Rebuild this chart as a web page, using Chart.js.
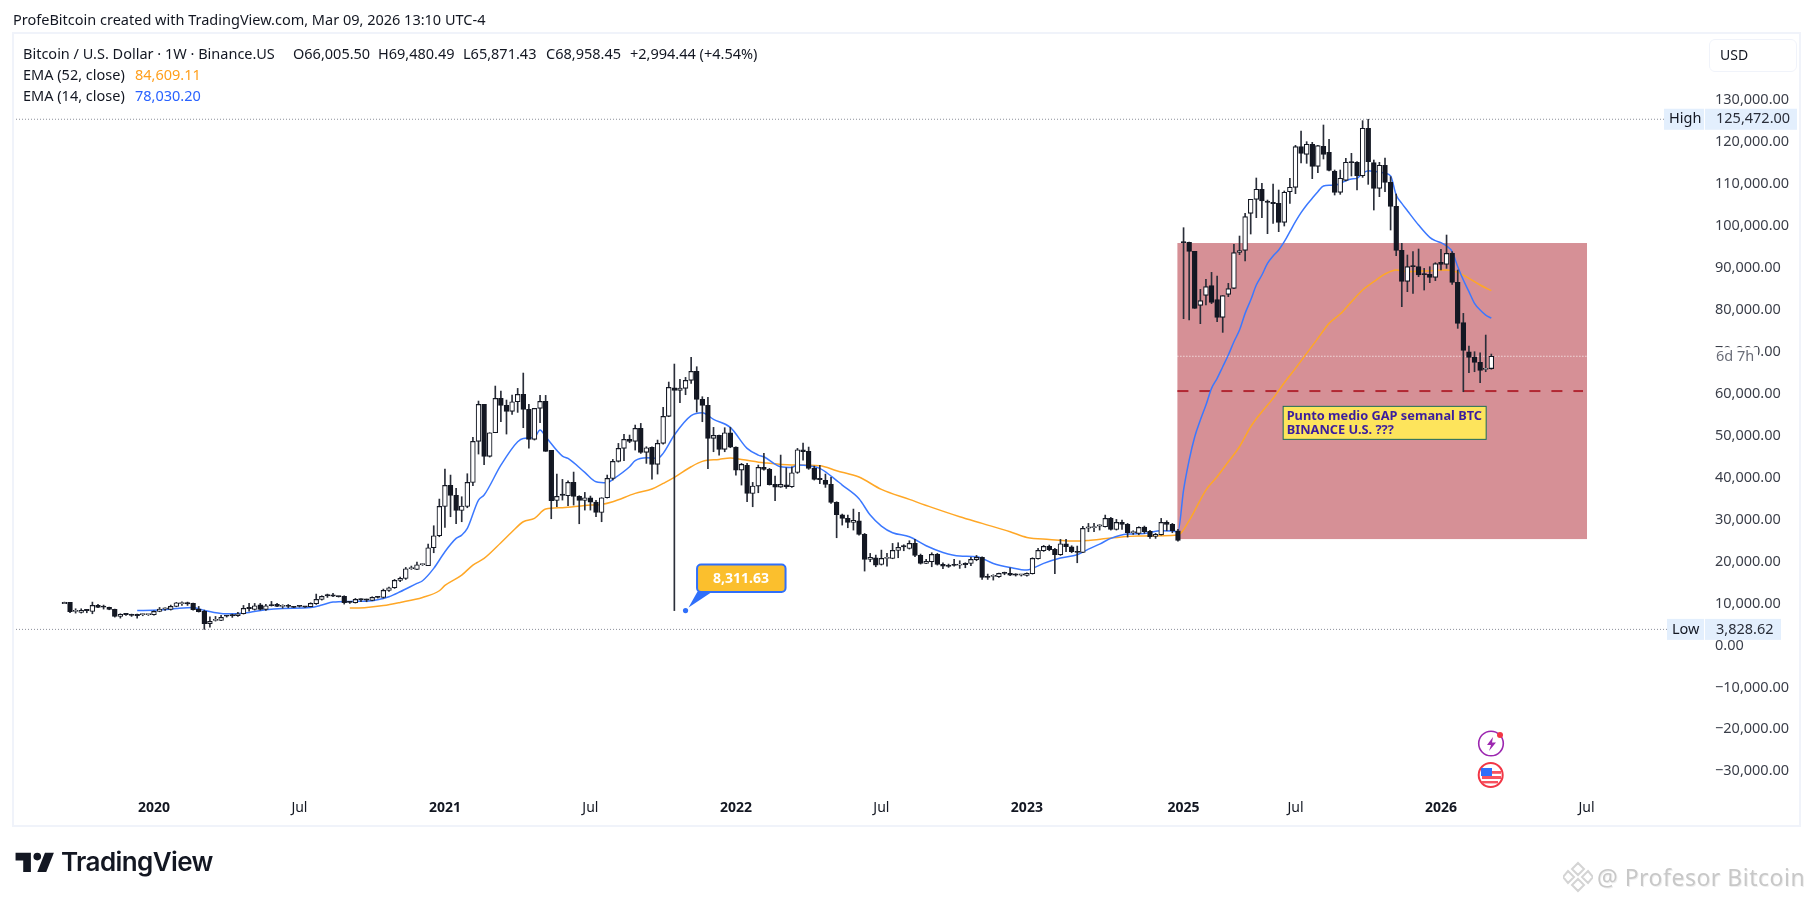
<!DOCTYPE html>
<html>
<head>
<meta charset="utf-8">
<title>BTC weekly</title>
<script src="https://cdn.jsdelivr.net/npm/chart.js@4/dist/chart.umd.min.js"></script>
<style>
html, body { margin: 0; padding: 0; background: #fff; width: 1814px; height: 901px; overflow: hidden; }
body { font-family: "Noto Sans", sans-serif; color: #131722; position: relative; }
canvas { position: absolute; left: 0; top: 0; }
.t { position: absolute; white-space: nowrap; font-size: 14.5px; line-height: 18px; }
#usd { position: absolute; left: 1709px; top: 39px; width: 86px; height: 31px; border: 1px solid #f0f3fa; border-radius: 6px; box-sizing: content-box; }
#usd span { position: absolute; left: 10px; top: 6px; font-size: 14px; line-height: 18px; }
.brand { position: absolute; left: 61px; top: 846px; font-family: Inter, sans-serif; font-weight: 600; font-size: 26px; line-height: 32px; letter-spacing: -0.6px; color: #131722; white-space: nowrap; }
.mark { position: absolute; left: 1597px; top: 860px; font-size: 23px; line-height: 34px; letter-spacing: 0.5px; color: #c8c8c8; white-space: nowrap; text-shadow: 1px 1px 0 #eee; }
svg { position: absolute; }
</style>
</head>
<body>
<canvas id="btcChart" width="1814" height="901"></canvas>

<div class="t" style="left:13px;top:10px">ProfeBitcoin created with TradingView.com, Mar 09, 2026 13:10 UTC-4</div>
<div class="t" style="left:23px;top:44px">Bitcoin / U.S. Dollar · 1W · Binance.US</div>
<div class="t" style="left:293px;top:44px">O66,005.50</div>
<div class="t" style="left:378px;top:44px">H69,480.49</div>
<div class="t" style="left:463px;top:44px">L65,871.43</div>
<div class="t" style="left:546px;top:44px">C68,958.45</div>
<div class="t" style="left:630px;top:44px">+2,994.44 (+4.54%)</div>
<div class="t" style="left:23px;top:65px">EMA (52, close)</div>
<div class="t" style="left:135px;top:65px;color:#ff9f1c">84,609.11</div>
<div class="t" style="left:23px;top:86px">EMA (14, close)</div>
<div class="t" style="left:135px;top:86px;color:#2962ff">78,030.20</div>
<div id="usd"><span>USD</span></div>

<!-- event icons -->
<svg style="left:1476px;top:728px" width="32" height="32" viewBox="0 0 32 32">
  <circle cx="15" cy="15.5" r="12.3" fill="#fff" stroke="#9c27b0" stroke-width="1.6"/>
  <path d="M17 9 L11 17 H15 L13 23 L20 14.5 H16 Z" fill="#9c27b0"/>
  <circle cx="24" cy="7" r="3" fill="#f23645"/>
</svg>
<svg style="left:1476px;top:760px" width="30" height="30" viewBox="0 0 30 30">
  <circle cx="14.7" cy="15" r="12" fill="#fff" stroke="#f23645" stroke-width="2"/>
  <rect x="6" y="16" width="19" height="3" fill="#f7525f"/>
  <rect x="6" y="21" width="16" height="2.4" fill="#f7525f"/>
  <rect x="16" y="11" width="9" height="2.8" fill="#f7525f"/>
  <rect x="5" y="8" width="11" height="8" fill="#2f6ffa"/>
</svg>

<!-- TradingView logo -->
<svg style="left:13px;top:845px" width="46" height="36" viewBox="0 0 36 28">
  <path d="M14 6H2v6h6v9h6V6Zm12 15h-7l6-15h7l-6 15Zm-7-9a3 3 0 1 0 0-6 3 3 0 0 0 0 6Z" fill="#131722"/>
</svg>
<div class="brand">TradingView</div>

<!-- watermark -->
<svg style="left:1563px;top:861px" width="30" height="32" viewBox="0 0 30 32">
  <path d="M15 2 L21 8 L15 14 L9 8 Z M5 10 L11 16 L5 22 L0 16 Z M25 10 L30 16 L25 22 L19 16 Z M15 18 L21 24 L15 30 L9 24 Z" fill="none" stroke="#d4d4d4" stroke-width="2"/>
</svg>
<div class="mark">@ Profesor Bitcoin</div>

<script>
// weekly candles (USD)
const opens = [
  10258,10258,8112,7874,8351,8112,9543,9146,9066,8589,
  6920,7397,7397,7397,7317,7317,7317,8112,8669,8589,
  9305,9941,9941,10020,8669,8112,5171,5966,5966,6999,
  7079,7079,7556,8828,8589,9702,8589,9702,9782,9305,
  9305,9146,9305,9225,9225,9941,10974,11849,11928,11690,
  11690,10258,10179,10895,10815,10736,11451,11452,13122,13757,
  15506,15984,18289,18130,19243,18997,23297,26160,33155,38164,
  35779,32202,33155,38879,48658,57483,45081,50725,58913,57244,
  55813,58118,59867,56290,49135,56528,58198,46511,34586,35859,
  35700,38879,35541,34586,35222,34189,31724,35222,39834,43888,
  46988,49135,48658,51758,46035,47227,43173,48181,54621,61457,
  60821,61298,63207,65353,58675,57244,49373,50089,46750,50725,
  47307,41821,42934,36256,38005,42457,41980,38403,37768,38323,
  37846,41264,46671,46273,42218,39595,39356,38402,34110,31168,
  30294,29339,29737,26477,20515,20913,19323,20753,20753,22661,
  23535,23139,24331,21469,19561,19959,21708,19323,19164,19323,
  19400,19561,19561,20435,20992,16222,16460,16381,17176,17176,
  16778,16778,16699,17096,20674,22582,23615,22900,21628,24251,
  23536,22423,22184,27988,28068,28465,28306,30294,27670,29339,
  28862,26875,26716,28226,27193,26000,26398,29339,28862,27352,
  96120,96120,93973,81094,83479,85785,82446,78232,83717,85149,
  93734,94212,103036,106375,108760,105660,105660,105421,100890,108204,
  109237,118936,117107,119493,114245,119015,117584,113053,108045,110906,
  115199,115199,112020,123308,115120,109000,114484,110429,104705,94212,
  86818,90316,90316,88408,88488,87772,91351,90873,93496,86579,
  76960,70043,68692,67500,65800,66005.50
];
const highs = [
  10338,10258,8748,8748,8589,10338,9782,9623,9146,8669,
  7556,7635,7476,7476,7556,7476,8271,9066,8987,9623,
  10258,10418,10338,10100,9305,8430,6840,6920,7158,7158,
  7476,7874,9543,10020,10020,10020,9782,10497,10020,9702,
  9782,9305,9464,9305,10179,12246,11849,12246,12405,11769,
  11849,10497,11213,11133,11054,11610,11690,13440,13916,15745,
  16302,18607,18925,19879,19481,24172,28544,34904,42060,40628,
  37448,35461,40947,49612,58278,57483,50725,61855,60663,58516,
  59708,61298,64955,57483,56528,59629,59629,46511,40867,39595,
  39277,41344,35700,36495,35620,34586,35222,40628,44365,48181,
  50328,50168,52553,52951,47386,47386,48976,56767,62809,67102,
  63445,63922,68692,66466,59311,59152,51997,50168,51918,51997,
  47386,43411,43411,38880,43014,45796,42218,40390,45398,42377,
  42616,46989,48260,47306,42775,42934,40867,40072,34268,31327,
  31088,32520,31724,26716,21946,21548,22741,21946,24331,24490,
  24013,24967,25285,21787,20515,22105,21946,19720,19402,20515,
  20197,19720,20992,21469,21151,17017,16858,17255,17494,18527,
  17096,16937,17335,20913,23138,23854,23934,23138,25285,25285,
  23774,23695,28386,29101,29101,28783,31088,30532,30055,29896,
  29101,27352,28306,28465,27431,26716,30294,29737,29101,27670,
  99617,96199,93973,84910,87295,88965,88090,83399,86341,95642,
  97630,103036,106375,111463,110191,106216,110032,108601,108363,111384,
  119254,122672,120128,119969,119254,124103,120685,113371,113371,116153,
  117346,115359,125137,125472,115756,115200,116233,111781,107647,95881,
  93098,93894,94529,89918,90316,91270,94450,97868,93894,89521,
  79186,71395,70043,69805,74018,69480.49
];
const lows = [
  10179,7794,7715,7715,7794,7556,8987,8669,8510,6760,
  6522,7158,6920,6522,7079,7158,7238,8033,8351,8430,
  9225,9543,9543,8430,7953,3828.62,4376,5807,5886,6760,
  6681,6920,7476,8192,8430,8430,8351,9384,9225,8907,
  8987,8987,9146,9066,9200,9782,10815,11451,11610,11531,
  9861,10020,10100,10418,10418,10656,11292,11290,12883,13598,
  15188,15745,18130,18050,19084,18997,22105,25921,28147,30691,
  29022,29498,32837,38085,45637,43093,44921,50725,53349,50407,
  55097,55574,51918,47068,48976,53110,46273,30214,33076,34666,
  33315,33473,29022,32281,32281,30691,29498,35143,39436,43729,
  44047,48340,46591,45796,43411,39675,40867,48022,54541,8311.63,
  57880,59788,62491,55654,53349,42139,46193,45398,46193,47148,
  40628,38244,34268,33076,36415,41821,38244,34507,37687,37448,
  37687,41026,44206,41980,39436,38561,37687,33871,25682,28703,
  28068,27511,26318,17733,19958,18766,19164,18925,20674,20913,
  22582,22980,21151,19402,19482,18766,19164,18289,18607,18925,
  18368,18527,19005,20197,15745,15745,15586,16222,16858,16619,
  16540,16540,16540,17017,20594,22423,22582,17096,21469,22343,
  22105,19720,22105,27113,27113,27511,28226,27511,27511,27670,
  25842,26477,26398,26716,25524,25524,26318,27352,26875,24887,
  77914,77596,80379,76722,81174,81492,77199,74655,83161,85069,
  93178,91667,98107,102002,102002,98187,100651,98662,100015,105421,
  107727,115041,114961,111304,112735,115995,113132,107408,107567,110747,
  111940,108601,111622,109952,103831,107011,108203,99061,92940,80776,
  84354,83956,87931,84751,86500,86977,89521,89918,86102,75608,
  60503,65035,65273,62650,65273,65871.43
];
const closes = [
  10258,8033,8271,8351,8311,9543,9066,9106,8589,6920,
  7397,7357,7158,7079,7340,7357,8112,8669,8690,9305,
  10179,9960,9920,8510,8033,5171,5727,6045,6681,6980,
  7050,7556,8828,8790,9464,8589,9464,9464,9305,9330,
  9280,9066,9280,9146,10020,10974,11690,11830,11769,11610,
  10179,10240,10974,10880,10800,11451,11430,13122,13757,15506,
  15984,18289,18330,19243,19260,23297,26160,33155,38164,35779,
  32202,33235,38879,48658,57483,45081,50725,58913,57244,55813,
  58118,59867,56290,49135,56528,58198,46273,34507,35541,35800,
  38879,35541,34586,35222,34189,31724,35222,39834,43888,46988,
  49135,48658,51758,46035,47147,43173,48181,54621,61537,60821,
  61378,63207,65353,58675,57244,49373,50089,46750,50725,47307,
  41821,43173,36256,38005,42457,41980,38323,37768,38403,37846,
  41185,46670,46193,42218,39595,39550,38402,34110,31168,30294,
  29339,29816,26477,20515,20992,19164,20753,20830,22661,23377,
  23500,24331,21469,19561,20038,21708,19323,18925,18846,19084,
  19400,19243,20515,20992,16222,16200,16500,17176,17150,16778,
  16770,16790,17176,20753,22661,23615,22820,21628,24251,23536,
  22343,22184,27908,28000,28100,28480,30294,27670,29339,28862,
  26875,26890,28147,27113,25921,26477,29339,28862,27352,25046,
  96040,93973,80379,82207,85546,81810,78232,83399,85069,93655,
  94132,102241,106375,108760,105978,105650,105341,100890,108045,109237,
  118936,117346,119493,114245,119174,117107,113291,108045,111383,115199,
  115120,112020,123308,115358,109000,114484,110429,104705,94212,86818,
  90316,90300,88328,88400,87772,91031,90873,93496,86579,76801,
  70362,68692,67500,65592,66005,68958.45
];

// EMA lines, read at the week numbers listed
const ema14Weeks = [13,17,20,23,25,28,30,33,36,39,44,46,48,51,55,57,58,60,63,64,66,68,70,71,72,74,75,78,81,82,84,85,86,89,90,93,95,97,98,101,102,104,106,107,109,112,114,116,119,122,124,125,128,130,131,133,135,137,139,142,144,146,148,151,154,157,160,163,166,169,172,173,175,178,181,183,185,187,190,193,196,198,199,200,201,202,203,204,205,206,207,208,209,210,211,212,213,214,215,216,217,218,219,220,221,222,223,224,225,226,227,228,229,230,231,232,233,234,236,237,238,239,240,242,244,245,246,247,248,249,250,251,252,253,254,255];
const ema14Values = [8351,8430,8828,9066,8351,7635,7556,7874,8510,8828,9066,9623,10338,10497,10656,11213,11611,12803,14791,15427,18369,22344,25523,26318,27908,34666,35858,42993,48578,49373,49612,51361,49771,45160,44603,41264,39038,38800,39595,42616,44047,44763,44603,45796,50168,54779,55495,53905,51997,46989,45398,45000,42616,42457,43013,42854,42218,40390,38244,34984,31088,28465,26875,25921,23774,22184,21310,21151,19561,18607,17971,18368,19561,20833,21628,22980,24172,25524,26557,26716,27352,27272,27113,37051,44206,49771,53746,57323,61298,63683,66466,69248,72428,75211,79186,82366,85943,88329,91111,92860,94291,96279,98664,101049,103195,105023,106613,108203,109555,109714,109714,110191,110827,111225,111384,112576,113212,113053,112576,111940,107408,105421,103672,100253,97312,96517,96040,95245,93894,90316,87136,84353,81571,79981,78789,78030.20];
const ema52Weeks = [51,54,57,60,64,67,68,71,73,75,78,80,82,84,86,89,93,96,98,102,105,107,109,112,114,117,119,121,125,130,131,135,138,142,146,151,155,160,164,169,172,176,181,183,187,192,199,201,204,206,208,210,212,214,216,218,220,222,224,226,228,230,232,234,236,238,240,244,247,249,251,253,255];
const ema52Values = [8907,9066,9500,10259,11452,13042,14314,16778,19164,20753,24490,27113,29498,30294,32520,32838,33394,33633,34268,36256,37290,38641,40072,42616,43888,44365,44683,44365,43570,43013,43013,42854,41662,40151,37210,34825,32917,30691,29101,27113,25762,25285,24888,25046,25603,26082,26318,29770,37051,40231,43808,47386,52156,55734,58913,62650,66069,69646,73223,76801,79027,81968,84751,86739,88567,89521,89123,89362,89521,88965,87533,85943,84609.11];

// axes
const yTickValues = [130000,120000,110000,100000,90000,80000,70000,60000,50000,40000,30000,20000,10000,0,-10000,-20000,-30000];
const xTickWeeks = [16,42,68,94,120,146,172,200,220,246,272];
const xTickLabels = ["2020","Jul","2021","Jul","2022","Jul","2023","2025","Jul","2026","Jul"];

// drawings and labels on the chart
const allTimeHigh = 125472;
const allTimeLow = 3828.62;
const lastClose = 68958.45;
const gapTop = 95960;
const gapBottom = 25365;
const gapMiddle = 60662;
const gapStartWeek = 198.9;
const gapEndWeek = 272.1;
const calloutValue = 8311.63;
const calloutWeek = 111;
const noteLines = ["Punto medio GAP semanal BTC", "BINANCE U.S. ???"];

const axisFont = '"Noto Sans", sans-serif';

function money(v) {
    const s = Math.abs(v).toLocaleString("en-US", { minimumFractionDigits: 2, maximumFractionDigits: 2 });
    return (v < 0 ? "\u2212" : "") + s;
}

const drawingsPlugin = {
    id: "drawings",
    beforeDatasetsDraw(chart) {
        const { ctx, chartArea, scales: { x, y } } = chart;
        ctx.save();
        // gap box
        ctx.fillStyle = "#d69096";
        const gx0 = x.getPixelForValue(gapStartWeek), gx1 = x.getPixelForValue(gapEndWeek);
        ctx.fillRect(gx0, y.getPixelForValue(gapTop), gx1 - gx0, y.getPixelForValue(gapBottom) - y.getPixelForValue(gapTop));

        // high / low dotted lines
        ctx.strokeStyle = "#8a8e99";
        ctx.lineWidth = 1;
        ctx.setLineDash([1, 2]);
        [[allTimeHigh, 1664], [allTimeLow, 1667]].forEach(([v, end]) => {
            const py = y.getPixelForValue(v);
            ctx.beginPath();
            ctx.moveTo(chartArea.left, py);
            ctx.lineTo(end, py);
            ctx.stroke();
        });

        // last price line, white so it only shows on the box
        ctx.strokeStyle = "#ffffff";
        const lp = y.getPixelForValue(lastClose);
        ctx.beginPath();
        ctx.moveTo(gx0, lp);
        ctx.lineTo(gx1, lp);
        ctx.stroke();

        // gap midpoint
        ctx.strokeStyle = "#b22833";
        ctx.lineWidth = 2;
        ctx.setLineDash([11, 11]);
        const mp = y.getPixelForValue(gapMiddle);
        ctx.beginPath();
        ctx.moveTo(gx0, mp);
        ctx.lineTo(gx1 - 4, mp);
        ctx.stroke();
        ctx.restore();
    },
    afterDraw(chart) {
        const { ctx, scales: { x, y } } = chart;
        ctx.save();
        ctx.textBaseline = "middle";
        ctx.textAlign = "left";

        // High / Low tags on the price scale
        const tag = (v, left, word, boxRight) => {
            const py = y.getPixelForValue(v);
            ctx.fillStyle = "#e3effd";
            ctx.fillRect(left, py - 10.5, 1704 - left, 21);
            ctx.fillRect(1705, py - 10.5, boxRight - 1705, 21);
            ctx.fillStyle = "#131722";
            ctx.font = "14.5px " + axisFont;
            ctx.fillText(word, left + 5, py);
            ctx.fillStyle = "#2a2e39";
            ctx.fillText(money(v), 1716, py);
        };
        tag(allTimeHigh, 1664, "High", 1797);
        tag(allTimeLow, 1667, "Low", 1781);

        // countdown covers most of the 70,000 tick
        const lp = y.getPixelForValue(lastClose);
        ctx.fillStyle = "#ffffff";
        ctx.fillRect(1711, lp - 9, 47, 19);
        ctx.fillStyle = "#6a6d78";
        ctx.font = "14.5px " + axisFont;
        ctx.fillText("6d 7h", 1716, lp + 1);

        // yellow note inside the gap box
        const nx = x.getPixelForValue(217.8), ny = y.getPixelForValue(57013);
        ctx.fillStyle = "#fde45c";
        ctx.fillRect(nx, ny, 203, 33);
        ctx.strokeStyle = "#1b6b5a";
        ctx.lineWidth = 1;
        ctx.strokeRect(nx, ny, 203, 33);
        ctx.fillStyle = "#3b1d9e";
        ctx.font = "bold 12.8px " + axisFont;
        ctx.fillText(noteLines[0], nx + 3.5, ny + 10);
        ctx.fillText(noteLines[1], nx + 3.5, ny + 24);

        // callout for the spike low
        const cx = x.getPixelForValue(calloutWeek), cy = y.getPixelForValue(calloutValue);
        ctx.fillStyle = "#2f6ffa";
        ctx.beginPath();
        ctx.arc(cx, cy, 2.6, 0, Math.PI * 2);
        ctx.fill();
        ctx.beginPath();
        ctx.moveTo(cx + 3, cy - 3);
        ctx.lineTo(cx + 12, cy - 19);
        ctx.lineTo(cx + 27, cy - 19);
        ctx.closePath();
        ctx.fill();
        ctx.beginPath();
        ctx.roundRect(cx + 11.5, cy - 46, 88.5, 27.5, 4);
        ctx.fillStyle = "#fbbf2d";
        ctx.fill();
        ctx.strokeStyle = "#2f6ffa";
        ctx.lineWidth = 2;
        ctx.stroke();
        ctx.fillStyle = "#ffffff";
        ctx.font = "bold 14px " + axisFont;
        ctx.textAlign = "center";
        ctx.fillText(money(calloutValue), cx + 55.5, cy - 32);

        // pane frame
        ctx.strokeStyle = "#f0f3fa";
        ctx.lineWidth = 2;
        ctx.strokeRect(13, 33, 1787, 793);
        ctx.restore();
    }
};

const weeks = opens.map((_, i) => i);
const upCandle = weeks.map(i => closes[i] >= opens[i]);
const candleBlack = "#131722";

new Chart(document.getElementById("btcChart").getContext("2d"), {
    type: "bar",
    data: {
        datasets: [
            {
                label: "EMA (14, close)",
                type: "line",
                data: ema14Weeks.map((w, i) => ({ x: w, y: ema14Values[i] })),
                borderColor: "#3b78ff",
                borderWidth: 1.5,
                pointRadius: 0,
                cubicInterpolationMode: "monotone",
                order: 3
            },
            {
                label: "EMA (52, close)",
                type: "line",
                data: ema52Weeks.map((w, i) => ({ x: w, y: ema52Values[i] })),
                borderColor: "#ffa726",
                borderWidth: 1.5,
                pointRadius: 0,
                cubicInterpolationMode: "monotone",
                order: 4
            },
            {
                label: "wicks",
                data: weeks.map(i => ({ x: i, y: [lows[i], highs[i]] })),
                backgroundColor: "#2a2e39",
                borderWidth: 0,
                barThickness: 1,
                grouped: false,
                order: 2
            },
            {
                label: "Bitcoin / U.S. Dollar",
                data: weeks.map(i => ({ x: i, y: [opens[i], closes[i]] })),
                backgroundColor: weeks.map(i => upCandle[i] ? "#ffffff" : candleBlack),
                borderColor: candleBlack,
                borderWidth: 1.1,
                borderSkipped: false,
                barThickness: 4.8,
                minBarLength: 1.2,
                grouped: false,
                order: 1
            }
        ]
    },
    options: {
        responsive: false,
        animation: false,
        events: [],
        devicePixelRatio: 1,
        layout: { padding: { left: 13, top: 34, right: 14, bottom: 75 } },
        plugins: { legend: { display: false }, tooltip: { enabled: false } },
        scales: {
            x: {
                type: "linear",
                offset: false,
                bounds: "data",
                min: -9.19,
                max: 294.08,
                grid: { display: false, drawTicks: false },
                border: { display: false },
                afterBuildTicks(scale) { scale.ticks = xTickWeeks.map(value => ({ value })); },
                afterFit(scale) { scale.height = 36; },
                ticks: {
                    autoSkip: false,
                    maxRotation: 0,
                    padding: 10,
                    color: "#131722",
                    font: ctx => ({
                        family: axisFont,
                        size: 14,
                        weight: ctx.tick && xTickLabels[xTickWeeks.indexOf(ctx.tick.value)] !== "Jul" ? "bold" : "normal"
                    }),
                    callback: v => xTickLabels[xTickWeeks.indexOf(v)]
                }
            },
            y: {
                type: "linear",
                position: "right",
                bounds: "data",
                min: -34470,
                max: 145803,
                grid: { display: false, drawTicks: false },
                border: { display: false },
                afterBuildTicks(scale) { scale.ticks = yTickValues.map(value => ({ value })); },
                afterFit(scale) { scale.width = 90; },
                ticks: {
                    autoSkip: false,
                    padding: 5,
                    crossAlign: "near",
                    color: "#3a3e49",
                    font: { family: axisFont, size: 14.5 },
                    callback: v => money(v)
                }
            }
        }
    },
    plugins: [drawingsPlugin]
});
</script>
</body>
</html>
